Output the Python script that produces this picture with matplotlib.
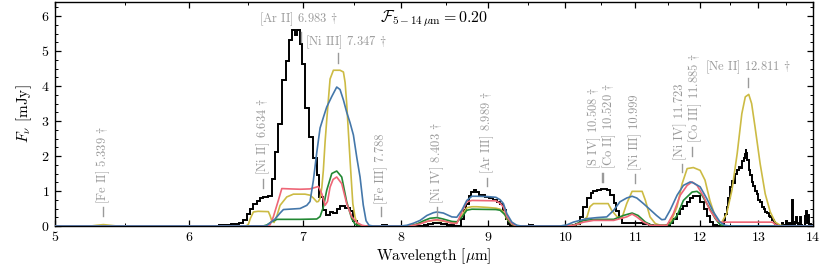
import matplotlib
matplotlib.use("Agg")
import matplotlib.pyplot as plt
import matplotlib.transforms as mtransforms
from matplotlib.ticker import FixedLocator, NullFormatter, MultipleLocator

plt.rcParams['font.family'] = ['cmr10', 'DejaVu Serif']
plt.rcParams['mathtext.fontset'] = 'cm'
plt.rcParams['axes.formatter.use_mathtext'] = True

# ---------------- data ----------------
# observed spectrum (step histogram): left bin edges [um] and flux [mJy]
black_wl = [5.00, 6.10, 6.25, 6.35, 6.42, 6.458, 6.488, 6.517, 6.546, 6.577,
            6.606, 6.636, 6.681, 6.712, 6.742, 6.772, 6.805, 6.840, 6.870, 6.900,
            6.930, 6.945, 6.975, 6.991, 7.022, 7.064, 7.102, 7.135, 7.160, 7.193,
            7.226, 7.265, 7.298, 7.331, 7.364, 7.414, 7.465, 7.499, 7.534, 7.80,
            7.85, 8.25, 8.30, 8.36, 8.45, 8.52, 8.60, 8.68, 8.71, 8.74,
            8.77, 8.80, 8.83, 8.86, 8.89, 8.93, 8.97, 9.02, 9.07, 9.12,
            9.15, 9.19, 9.22, 9.25, 9.28, 9.53, 9.57, 10.10, 10.15, 10.20,
            10.25, 10.30, 10.35, 10.39, 10.44, 10.50, 10.58, 10.63, 10.68, 10.72,
            10.75, 10.80, 10.87, 11.00, 11.12, 11.20, 11.27, 11.53, 11.58, 11.64,
            11.69, 11.74, 11.80, 11.85, 11.90, 11.96, 12.01, 12.07, 12.12, 12.17,
            12.23, 12.29, 12.40, 12.43, 12.45, 12.48, 12.51, 12.54, 12.57, 12.60,
            12.63, 12.66, 12.68, 12.71, 12.74, 12.76, 12.775, 12.79, 12.80, 12.83,
            12.86, 12.88, 12.91, 12.94, 12.97, 13.00, 13.03, 13.06, 13.09, 13.12,
            13.15, 13.18, 13.21, 13.24, 13.27, 13.30, 13.33, 13.36, 13.42, 13.44,
            13.50, 13.52, 13.56, 13.58, 13.60, 13.62, 13.66, 13.68, 13.70, 13.72,
            13.75, 13.77, 13.80, 13.85, 13.87, 13.89, 13.91, 13.93, 13.96]
black_flux = [0.00, 0.01, 0.03, 0.06, 0.10, 0.18, 0.35, 0.50, 0.62, 0.71,
              0.79, 0.83, 0.85, 1.35, 2.11, 2.92, 4.16, 4.72, 5.31, 5.59,
              5.45, 5.60, 5.20, 4.64, 3.36, 2.54, 1.93, 1.45, 0.83, 0.45,
              0.31, 0.40, 0.38, 0.49, 0.57, 0.52, 0.42, 0.13, 0.00, 0.02,
              0.00, 0.03, 0.06, 0.08, 0.05, 0.02, 0.00, 0.20, 0.45, 0.64,
              0.85, 0.97, 1.02, 0.98, 0.90, 0.88, 0.83, 0.80, 0.74, 0.70,
              0.64, 0.45, 0.20, 0.05, 0.00, 0.02, 0.00, 0.03, 0.07, 0.25,
              0.55, 0.80, 0.95, 1.01, 1.04, 1.05, 1.03, 0.90, 0.65, 0.42,
              0.22, 0.10, 0.08, 0.10, 0.05, 0.02, 0.01, 0.10, 0.20, 0.35,
              0.50, 0.58, 0.70, 0.80, 0.87, 0.85, 0.70, 0.50, 0.30, 0.12,
              0.03, 0.00, 0.16, 0.35, 0.54, 0.80, 1.11, 1.30, 1.22, 1.50,
              1.59, 1.70, 1.66, 1.85, 1.93, 2.05, 2.21, 2.10, 1.88, 1.60,
              1.45, 1.25, 1.15, 1.00, 0.92, 0.75, 0.68, 0.55, 0.48, 0.40,
              0.36, 0.28, 0.27, 0.18, 0.12, 0.05, 0.02, 0.00, 0.10, 0.02,
              0.15, 0.03, 0.08, 0.00, 0.73, 0.05, 0.12, 0.25, 0.08, 0.02,
              0.25, 0.03, 0.00, 0.30, 0.42, 0.08, 0.32, 0.05, 0.02]
black_end = 14.0

# model spectra
yellow_wl = [5.00, 5.25, 5.29, 5.34, 5.39, 5.44, 6.482, 6.502, 6.52, 6.546,
             6.588, 6.681, 6.696, 6.712, 6.733, 6.760, 6.788, 6.850, 6.912, 7.022,
             7.070, 7.102, 7.135, 7.150, 7.167, 7.184, 7.199, 7.216, 7.232, 7.265,
             7.298, 7.364, 7.398, 7.415, 7.431, 7.465, 7.493, 7.516, 7.534, 7.567,
             8.06, 8.14, 8.21, 8.29, 8.36, 8.40, 8.47, 8.57, 8.63, 8.689,
             8.748, 8.808, 8.87, 9.00, 9.10, 9.153, 9.194, 9.237, 9.30, 9.36,
             9.93, 10.11, 10.20, 10.30, 10.34, 10.39, 10.60, 10.65, 10.73, 10.80,
             10.87, 10.95, 11.10, 11.15, 11.22, 11.30, 11.38, 11.45, 11.53, 11.64,
             11.72, 11.80, 11.90, 12.01, 12.09, 12.17, 12.26, 12.31, 12.37, 12.45,
             12.54, 12.63, 12.71, 12.77, 12.83, 12.88, 12.94, 13.03, 13.12, 13.21,
             13.30, 13.39, 13.50, 14.00]
yellow_flux = [0.00, 0.00, 0.02, 0.04, 0.02, 0.00, 0.00, 0.05, 0.22, 0.40,
               0.42, 0.41, 0.30, 0.15, 0.10, 0.30, 0.59, 0.83, 0.91, 0.91,
               0.88, 0.80, 0.69, 0.70, 0.79, 1.10, 1.59, 2.40, 3.02, 4.20,
               4.45, 4.45, 4.40, 4.10, 3.50, 1.88, 0.64, 0.25, 0.10, 0.00,
               0.00, 0.03, 0.08, 0.13, 0.16, 0.16, 0.14, 0.09, 0.10, 0.30,
               0.52, 0.55, 0.55, 0.53, 0.51, 0.48, 0.40, 0.20, 0.05, 0.00,
               0.00, 0.02, 0.07, 0.26, 0.55, 0.64, 0.64, 0.45, 0.26, 0.23,
               0.64, 0.99, 0.99, 0.73, 0.26, 0.07, 0.02, 0.02, 0.07, 0.55,
               1.21, 1.64, 1.67, 1.59, 1.31, 0.73, 0.26, 0.11, 0.11, 0.35,
               1.02, 2.07, 3.21, 3.69, 3.76, 3.50, 2.83, 1.78, 0.92, 0.40,
               0.11, 0.02, 0.00, 0.00]

blue_wl = [5.00, 6.66, 6.681, 6.742, 6.788, 6.819, 6.975, 7.039, 7.070, 7.102,
           7.135, 7.167, 7.199, 7.232, 7.282, 7.331, 7.364, 7.398, 7.431, 7.465,
           7.499, 7.534, 7.567, 7.600, 7.629, 7.660, 7.700, 8.00, 8.063, 8.137,
           8.210, 8.286, 8.36, 8.399, 8.474, 8.572, 8.630, 8.689, 8.748, 8.808,
           8.87, 9.00, 9.10, 9.153, 9.194, 9.237, 9.30, 9.363, 9.42, 9.93,
           10.02, 10.11, 10.20, 10.30, 10.44, 10.58, 10.68, 10.77, 10.87, 10.95,
           11.02, 11.12, 11.22, 11.32, 11.40, 11.45, 11.53, 11.64, 11.74, 11.85,
           11.90, 12.01, 12.12, 12.23, 12.34, 12.42, 12.50, 14.00]
blue_flux = [0.00, 0.00, 0.05, 0.20, 0.37, 0.47, 0.50, 0.59, 0.70, 1.30,
             2.10, 2.80, 3.10, 3.40, 3.70, 3.97, 3.90, 3.60, 3.25, 2.95,
             2.60, 1.95, 1.40, 0.60, 0.15, 0.02, 0.00, 0.00, 0.02, 0.08,
             0.16, 0.30, 0.38, 0.40, 0.37, 0.26, 0.25, 0.45, 0.73, 0.85,
             0.85, 0.84, 0.82, 0.75, 0.64, 0.35, 0.11, 0.02, 0.00, 0.00,
             0.03, 0.11, 0.16, 0.21, 0.24, 0.26, 0.45, 0.69, 0.80, 0.85,
             0.80, 0.64, 0.47, 0.30, 0.18, 0.19, 0.45, 0.88, 1.16, 1.26,
             1.23, 1.12, 0.78, 0.40, 0.11, 0.02, 0.00, 0.00]

green_wl = [5.00, 6.633, 6.668, 6.715, 6.760, 6.975, 7.135, 7.167, 7.199, 7.232,
            7.282, 7.331, 7.381, 7.431, 7.483, 7.516, 7.567, 8.10, 8.17, 8.25,
            8.32, 8.40, 8.47, 8.572, 8.63, 8.689, 8.748, 8.808, 9.10, 9.153,
            9.21, 9.27, 9.33, 9.40, 10.00, 10.11, 10.25, 10.44, 10.68, 10.82,
            10.95, 11.04, 11.15, 11.25, 11.45, 11.53, 11.64, 11.74, 11.88, 11.96,
            12.04, 12.15, 12.26, 12.34, 12.40, 14.00]
green_flux = [0.00, 0.00, 0.03, 0.13, 0.19, 0.19, 0.20, 0.27, 0.54, 1.02,
              1.50, 1.57, 1.40, 0.69, 0.20, 0.05, 0.00, 0.00, 0.05, 0.15,
              0.22, 0.24, 0.20, 0.13, 0.12, 0.25, 0.45, 0.48, 0.47, 0.45,
              0.33, 0.12, 0.02, 0.00, 0.00, 0.02, 0.16, 0.19, 0.19, 0.30,
              0.37, 0.30, 0.11, 0.02, 0.02, 0.05, 0.30, 0.73, 0.97, 0.99,
              0.88, 0.55, 0.21, 0.04, 0.00, 0.00]

red_wl = [5.00, 6.68, 6.696, 6.726, 6.772, 6.804, 6.881, 6.975, 7.070, 7.119,
          7.151, 7.184, 7.216, 7.240, 7.265, 7.295, 7.331, 7.381, 7.431, 7.483,
          7.534, 7.588, 7.629, 8.10, 8.21, 8.30, 8.399, 8.47, 8.572, 8.63,
          8.689, 8.748, 8.808, 9.10, 9.153, 9.194, 9.24, 9.30, 9.36, 10.00,
          10.11, 10.25, 10.39, 10.68, 10.87, 10.95, 11.02, 11.12, 11.22, 11.48,
          11.58, 11.69, 11.80, 11.88, 11.96, 12.07, 12.17, 12.29, 12.34, 12.40,
          13.25, 13.31, 13.38, 14.00]
red_flux = [0.00, 0.00, 0.03, 0.26, 0.73, 1.07, 1.06, 1.05, 1.06, 1.10,
            1.13, 0.92, 0.59, 0.70, 1.11, 1.33, 1.40, 1.21, 0.64, 0.26,
            0.10, 0.02, 0.00, 0.00, 0.06, 0.14, 0.18, 0.15, 0.08, 0.07,
            0.40, 0.69, 0.73, 0.72, 0.65, 0.54, 0.26, 0.07, 0.00, 0.00,
            0.02, 0.11, 0.16, 0.16, 0.26, 0.34, 0.26, 0.11, 0.02, 0.02,
            0.35, 0.88, 1.16, 1.26, 1.16, 0.83, 0.45, 0.16, 0.11, 0.11,
            0.11, 0.03, 0.00, 0.00]

# emission line identifications
line_names = ["[Fe II]", "[Ni II]", "[Ar II]", "[Ni III]", "[Fe III]", "[Ni IV]",
              "[Ar III]", "[S IV]", "[Co II]", "[Ni III]", "[Ni IV]", "[Co III]", "[Ne II]"]
line_wl = [5.339, 6.634, 6.983, 7.347, 7.788, 8.403, 8.989, 10.508, 10.520,
           10.999, 11.723, 11.885, 12.811]
line_dagger = [True, True, True, True, False, True, True, True, True,
               False, False, True, True]
frac_label = r"$\mathcal{F}_{5-14\,\mu\mathrm{m}} = 0.20$"

# ---------------- layout ----------------
# (marker centre y, text y, horizontal?, x offset in px)
label_layout = [(0.41, 0.64, False, 0), (1.22, 1.45, False, 0), (5.40, 5.90, True, -3),
                (4.80, 5.26, True, 8), (0.41, 0.64, False, 0), (0.41, 0.64, False, 0),
                (1.25, 1.48, False, 0), (1.39, 1.62, False, -8), (1.39, 1.62, False, 7),
                (1.36, 1.59, False, 0), (1.65, 1.88, False, -2), (2.13, 2.36, False, 3),
                (4.10, 4.53, True, 0)]

fig = plt.figure(figsize=(8.30, 2.73), dpi=100)
ax = fig.add_axes([55/830, 1-226/273, (813-55)/830, (226-2)/273])

ax.stairs(black_flux, black_wl + [black_end], color='black', lw=1.4, zorder=2)
ax.plot(yellow_wl, yellow_flux, color='#CCBB44', lw=1.2, zorder=3)
ax.plot(green_wl, green_flux, color='#228833', lw=1.2, zorder=3)
ax.plot(red_wl, red_flux, color='#EE6677', lw=1.2, zorder=3)
ax.plot(blue_wl, blue_flux, color='#4477AA', lw=1.2, zorder=3)

ax.set_xscale('log')
ax.set_xlim(5, 14)
ax.set_ylim(0, 6.4)
ax.xaxis.set_major_locator(FixedLocator(list(range(5, 15))))
ax.xaxis.set_major_formatter(matplotlib.ticker.FixedFormatter([str(v) for v in range(5, 15)]))
ax.xaxis.set_minor_locator(FixedLocator([v + 0.5 for v in range(5, 14)]))
ax.xaxis.set_minor_formatter(NullFormatter())
ax.yaxis.set_major_locator(MultipleLocator(1))
ax.yaxis.set_minor_locator(MultipleLocator(0.25))
ax.tick_params(which='both', direction='in', top=True, right=True, labelsize=10)
ax.tick_params(which='major', length=4.5, width=0.9, pad=4)
ax.tick_params(which='minor', length=2.3, width=0.7)
for s in ax.spines.values():
    s.set_linewidth(1.0)

ax.set_xlabel(r"Wavelength [$\mu$m]", fontsize=11, labelpad=2)
ax.set_ylabel(r"$F_\nu$ [mJy]", fontsize=11, labelpad=5)

grey = '#9a9a9a'
for name, wl, dag, (ym, yt, horiz, dx) in zip(line_names, line_wl, line_dagger, label_layout):
    txt = f"{name} {wl:.3f}" + (r" $\dagger$" if dag else "")
    off = mtransforms.offset_copy(ax.transData, fig=fig, x=dx * 72 / 100, y=0, units='points')
    if horiz:
        ax.plot([wl, wl], [ym - 0.13, ym + 0.13], color=grey, lw=1.0, zorder=4)
        ax.text(wl, yt, txt, transform=off, ha='center', va='center',
                color=grey, fontsize=9, zorder=4)
    else:
        ax.plot([wl, wl], [ym - 0.12, ym + 0.12], color=grey, lw=1.0, zorder=4)
        ax.text(wl, yt, txt, transform=off, ha='center', va='bottom', rotation=90,
                color=grey, fontsize=9, zorder=4)

ax.text(7.77, 5.93, frac_label, ha='left', va='center', fontsize=11.5, color='black')

fig.savefig("out.png", dpi=100)
